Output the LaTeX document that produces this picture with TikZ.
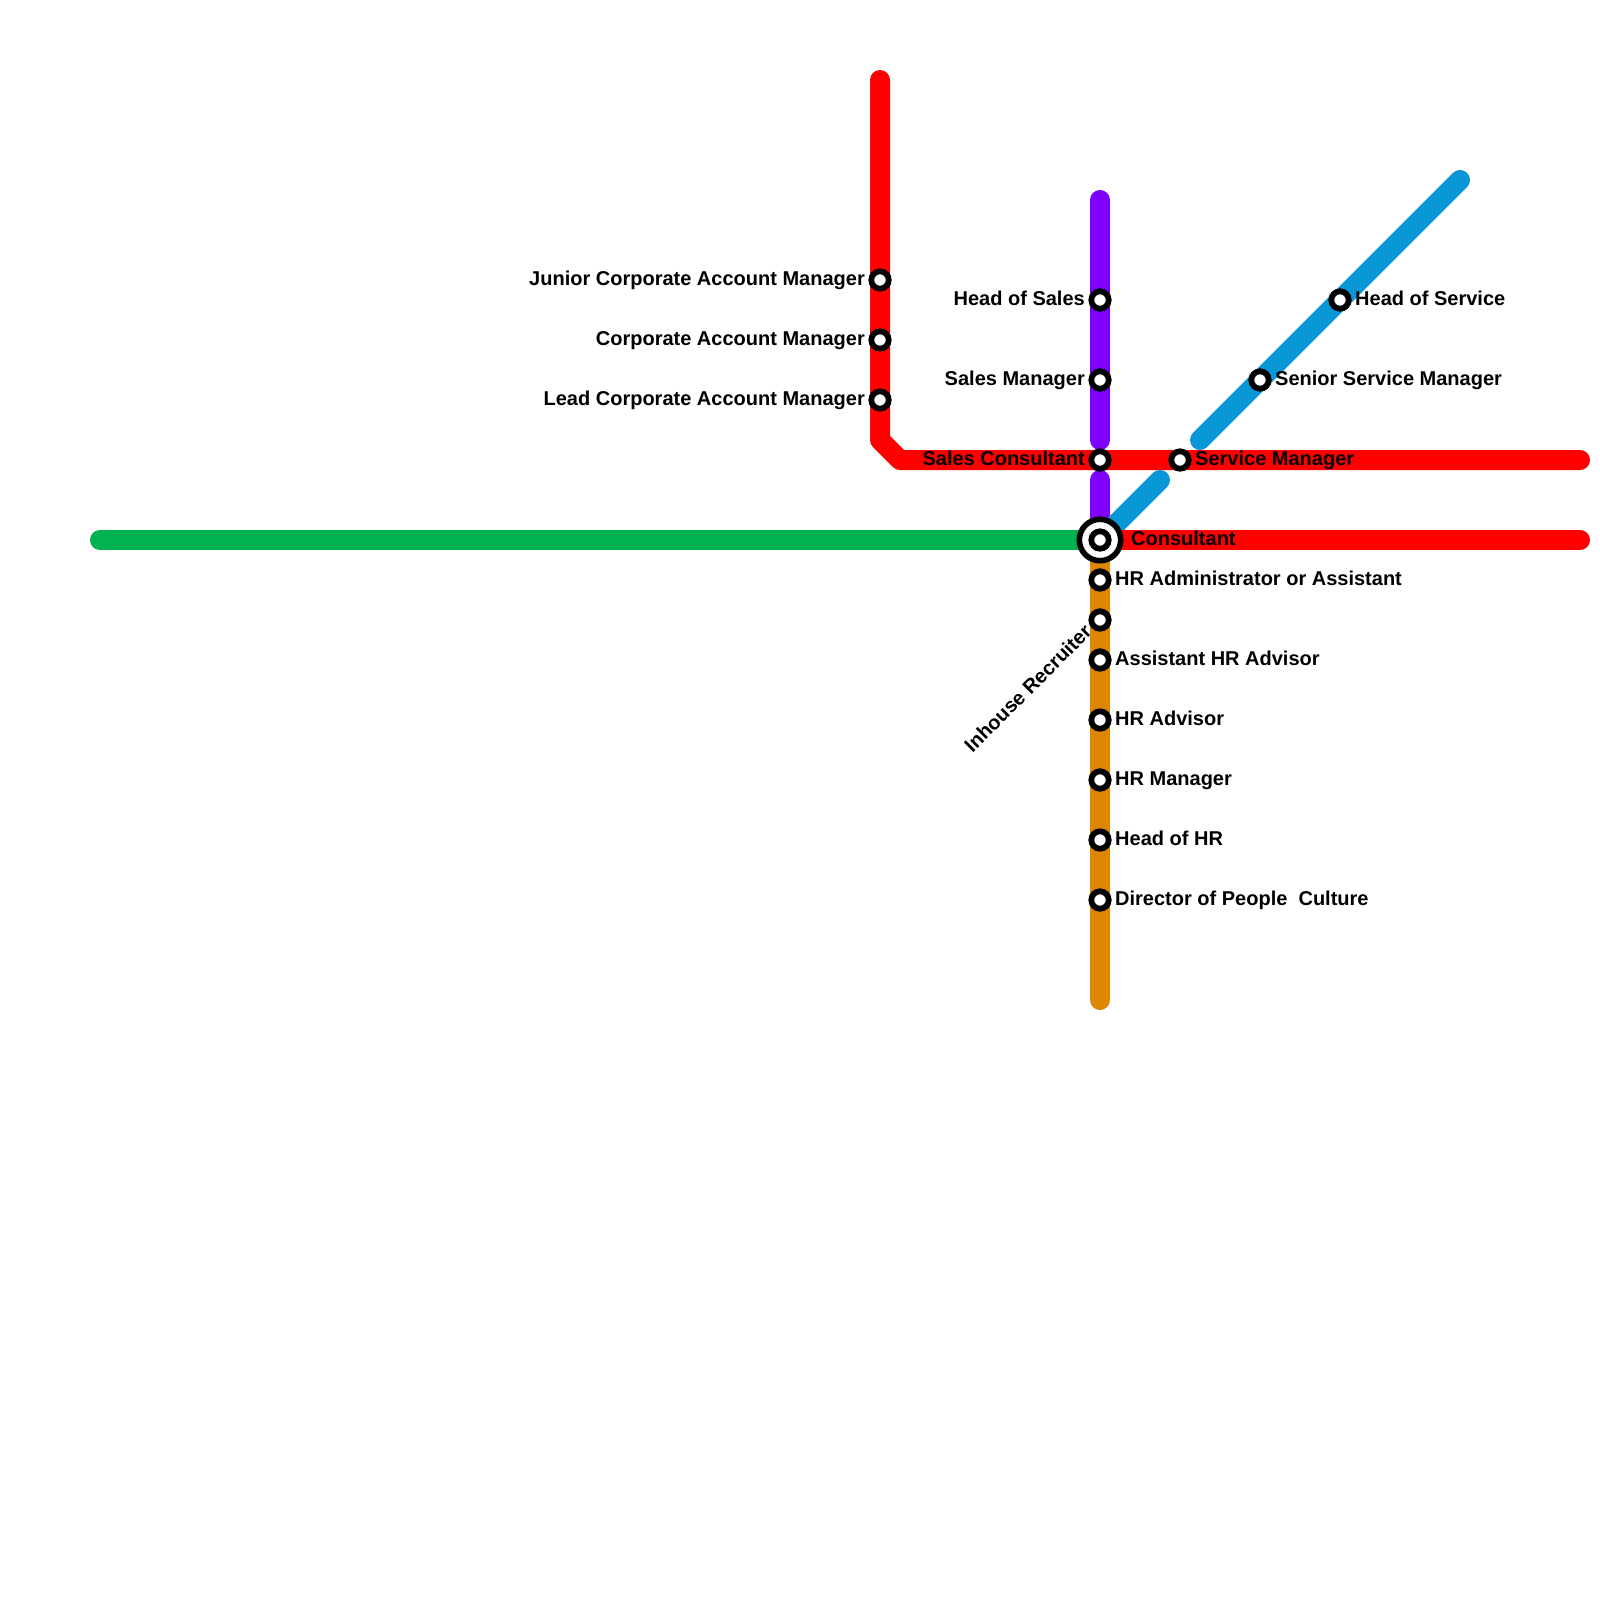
\documentclass[tikz,border=0pt]{standalone}
\usepackage{fontspec}
\setmainfont{Liberation Sans}
\definecolor{lred}{HTML}{FF0000}
\definecolor{lgreen}{HTML}{00B251}
\definecolor{lpurple}{HTML}{8000FF}
\definecolor{lblue}{HTML}{0896D7}
\definecolor{lorange}{HTML}{DF8600}
\tikzset{
  metro/.style={line width=20pt,line cap=round,line join=round},
  stn/.style={circle,draw=black,fill=white,line width=5.8pt,minimum size=17.4pt,inner sep=0pt,outer sep=0pt},
  hub/.style={circle,draw=black,fill=white,line width=5.6pt,minimum size=41.4pt,inner sep=0pt,outer sep=0pt},
  lab/.style={font=\fontsize{20}{20}\selectfont\bfseries,inner sep=0pt,text=black},
  labr/.style={lab,anchor=base west},
  labl/.style={lab,anchor=base east},
}
\begin{document}
\begin{tikzpicture}[x=1pt,y=-1pt]
\useasboundingbox (0,0) rectangle (1600,1600);
\fill[white] (0,0) rectangle (1600,1600);
% line ends and bends
\coordinate (r1a) at (880,80);
\coordinate (r1b) at (880,440);
\coordinate (r1c) at (900,460);
\coordinate (r1d) at (1580,460);
\coordinate (r2) at (1580,540);
\coordinate (g1) at (100,540);
\coordinate (p1) at (1100,200);
\coordinate (p2) at (1100,440);
\coordinate (p3) at (1100,480);
\coordinate (b1) at (1460,180);
\coordinate (b2) at (1200,440);
\coordinate (b3) at (1160,480);
\coordinate (o1) at (1100,1000);
\coordinate (hubc) at (1100,540);
% lines
\draw[metro,lgreen] (g1) -- (hubc);
\draw[metro,lpurple] (p1) -- (p2);
\draw[metro,lpurple] (p3) -- (hubc);
\draw[metro,lblue] (b1) -- (b2);
\draw[metro,lblue] (b3) -- (hubc);
\draw[metro,lorange] (hubc) -- (o1);
\draw[metro,lred] (r1a) -- (r1b) -- (r1c) -- (r1d);
\draw[metro,lred] (hubc) -- (r2);
% stations
\node[stn] (jcam) at (880,280) {};
\node[stn] (cam) at (880,340) {};
\node[stn] (lcam) at (880,400) {};
\node[stn] (hos) at (1100,300) {};
\node[stn] (sm) at (1100,380) {};
\node[stn] (sc) at (1100,460) {};
\node[stn] (svm) at (1180,460) {};
\node[stn] (ssm) at (1260,380) {};
\node[stn] (hsv) at (1340,300) {};
\node[hub] (hub) at (hubc) {};
\node[stn] (cons) at (hubc) {};
\node[stn] (hra) at (1100,580) {};
\node[stn] (ihr) at (1100,620) {};
\node[stn] (ahr) at (1100,660) {};
\node[stn] (hrad) at (1100,720) {};
\node[stn] (hrm) at (1100,780) {};
\node[stn] (hoh) at (1100,840) {};
\node[stn] (dpc) at (1100,900) {};
% labels
\node[labl] (tjcam) at (865,285) {Junior Corporate Account Manager};
\node[labl] (tcam) at (865,345) {Corporate Account Manager};
\node[labl] (tlcam) at (865,405) {Lead Corporate Account Manager};
\node[labl] (thos) at (1085,305) {Head of Sales};
\node[labl] (tsm) at (1085,385) {Sales Manager};
\node[labl] (tsc) at (1085,465) {Sales Consultant};
\node[labr] (tsvm) at (1195,465) {Service Manager};
\node[labr] (tssm) at (1275,385) {Senior Service Manager};
\node[labr] (thsv) at (1355,305) {Head of Service};
\node[labr] (tcons) at (1131,545) {Consultant};
\node[labr] (thra) at (1115,585) {HR Administrator or Assistant};
\node[labr] (tahr) at (1115,665) {Assistant HR Advisor};
\node[labr] (thrad) at (1115,725) {HR Advisor};
\node[labr] (thrm) at (1115,785) {HR Manager};
\node[labr] (thoh) at (1115,845) {Head of HR};
\node[labr] (tdpc) at (1115,905) {Director of People\ \ Culture};
\node[labl,rotate=45] (tihr) at (1093,633) {Inhouse Recruiter};
\end{tikzpicture}
\end{document}
